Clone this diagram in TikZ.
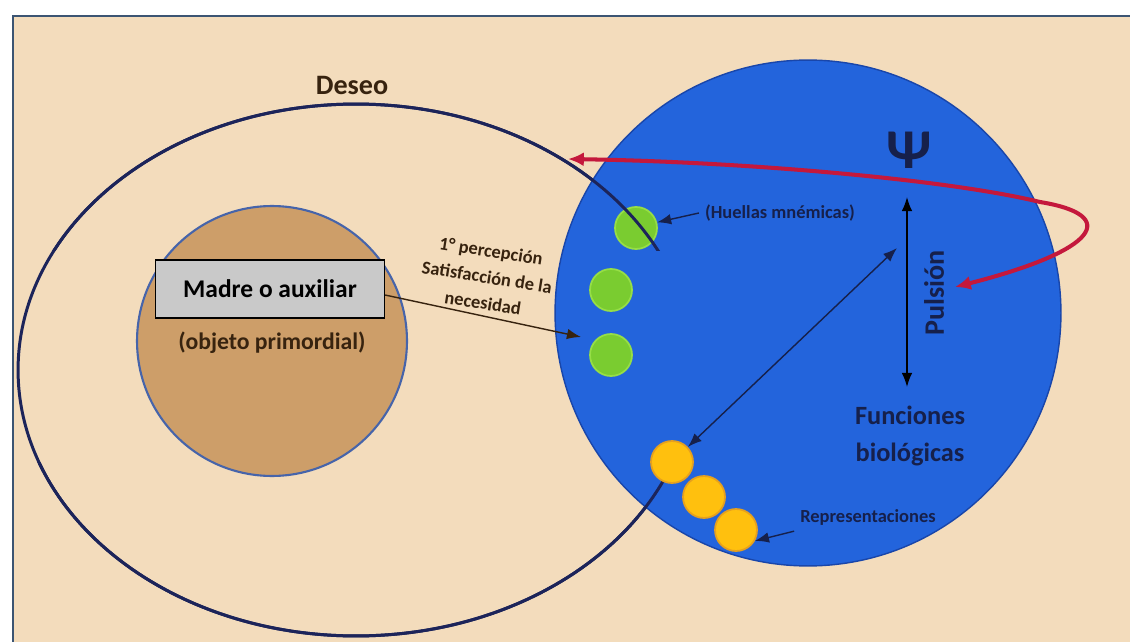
\documentclass[tikz,border=0pt]{standalone}
\usepackage{fontspec}
\setmainfont{Carlito}
\usepackage{tikz}
\usetikzlibrary{positioning,arrows.meta}
\definecolor{paper}{RGB}{243,220,188}
\definecolor{framegray}{RGB}{60,85,115}
\definecolor{deseoline}{RGB}{28,36,90}
\definecolor{psiblue}{RGB}{35,100,220}
\definecolor{psiedge}{RGB}{25,70,170}
\definecolor{objbrown}{RGB}{205,158,105}
\definecolor{objedge}{RGB}{70,100,170}
\definecolor{boxgray}{RGB}{201,201,201}
\definecolor{huellagreen}{RGB}{122,204,48}
\definecolor{huellaedge}{RGB}{150,222,70}
\definecolor{reprgold}{RGB}{255,192,14}
\definecolor{repredge}{RGB}{230,160,30}
\definecolor{navytext}{RGB}{22,32,75}
\definecolor{browntext}{RGB}{55,35,15}
\definecolor{pulsered}{RGB}{196,24,60}

\begin{document}
\begin{tikzpicture}[x=0.02cm, y=-0.02cm,
  huella/.style={circle, draw=huellaedge, line width=1pt, fill=huellagreen, minimum size=0.84cm, inner sep=0pt},
  repr/.style={circle, draw=repredge, line width=1pt, fill=reprgold, minimum size=0.84cm, inner sep=0pt},
  tag/.style={font=\bfseries\fontsize{10.5}{12}\selectfont, text=navytext},
  thinarrow/.style={line width=0.8pt, draw=navytext, -{Latex[length=8pt,width=6pt]}},
  deseoring/.style={deseoline, line width=1.7pt}]
\useasboundingbox (0,0) rectangle (1136,642);
\fill[white] (0,0) rectangle (1136,642);
\fill[paper] (13,16) rectangle (1130,642);
\draw[framegray, line width=1.6pt] (13,642) -- (13,16) -- (1130,16);

% Deseo
\draw[deseoring] (356,370) ellipse [x radius=6.76cm, y radius=5.32cm];
\node[font=\bfseries\fontsize{16}{18}\selectfont, text=browntext] (deseo) at (352,85) {Deseo};

% objeto primordial
\node[circle, draw=objedge, line width=1.2pt, fill=objbrown, minimum size=5.4cm] (objeto) at (272,341) {};
\node[draw=black, line width=0.8pt, fill=boxgray, minimum width=4.58cm, minimum height=1.16cm, font=\bfseries\fontsize{14.5}{16}\selectfont] (madre) at (270,289) {Madre o auxiliar};
\node[font=\bfseries\fontsize{13.5}{15}\selectfont, text=browntext] (primordial) at (272,343) {(objeto primordial)};

% aparato psiquico
\draw[psiedge, fill=psiblue, line width=0.8pt] (808,313) circle [radius=5.06cm];
\node[huella] (h1) at (636,228) {};
\node[huella] (h2) at (611,290) {};
\node[huella] (h3) at (611,355) {};

\begin{scope}
\clip (0,0) rectangle (1136,250);
\draw[deseoring] (356,370) ellipse [x radius=6.76cm, y radius=5.32cm];
\end{scope}
\begin{scope}
\clip (0,462) rectangle (1136,642);
\draw[deseoring] (356,370) ellipse [x radius=6.76cm, y radius=5.32cm];
\end{scope}

\node[repr] (r1) at (672,462) {};
\node[repr] (r2) at (704,497) {};
\node[repr] (r3) at (736,530) {};

\node[tag] (huellas) at (780,213) {(Huellas mnémicas)};
\node[tag] (representaciones) at (868,517) {Representaciones};
\draw[thinarrow] (huellas.west) -- (h1.15);
\draw[thinarrow] (representaciones.south west) -- (r3.330);

% primera satisfaccion
\coordinate (llegada) at (581,337);
\draw[line width=0.8pt, draw=browntext, -{Latex[length=8pt,width=6pt]}] (madre.-3) -- (llegada);
\node[rotate=-9, align=center, font=\bfseries\fontsize{10.5}{15}\selectfont, text=browntext] (percepcion) at (487,277) {1° percepción\\Satisfacción de la\\necesidad};

% pulsion
\node[font=\bfseries\fontsize{32}{32}\selectfont, text=navytext] (psi) at (909,150) {Ψ};
\coordinate (ptop) at (907,197);
\coordinate (pbot) at (907,387);
\draw[line width=0.9pt, {Latex[length=8pt,width=6pt]}-{Latex[length=8pt,width=6pt]}] (ptop) -- (pbot);
\node[rotate=90, font=\bfseries\fontsize{16}{18}\selectfont, text=navytext] (pulsion) at (934,293) {Pulsión};
\node[align=center, font=\bfseries\fontsize{15}{21.5}\selectfont, text=navytext] (funciones) at (910,436) {Funciones\\biológicas};

\coordinate (hacia) at (897,248);
\draw[line width=0.8pt, draw=navytext, {Latex[length=8pt,width=6pt]}-{Latex[length=8pt,width=6pt]}] (r1) -- (hacia);

% retorno
\coordinate (pinicio) at (568,159);
\coordinate (pfin) at (955,287);
\draw[pulsered, line width=2.3pt, {Latex[length=9pt,width=8pt]}-{Latex[length=9pt,width=8pt]}] (pinicio) .. controls (750,162) and (950,180) .. (1040,202) .. controls (1120,215) and (1100,250) .. (pfin);
\end{tikzpicture}
\end{document}
